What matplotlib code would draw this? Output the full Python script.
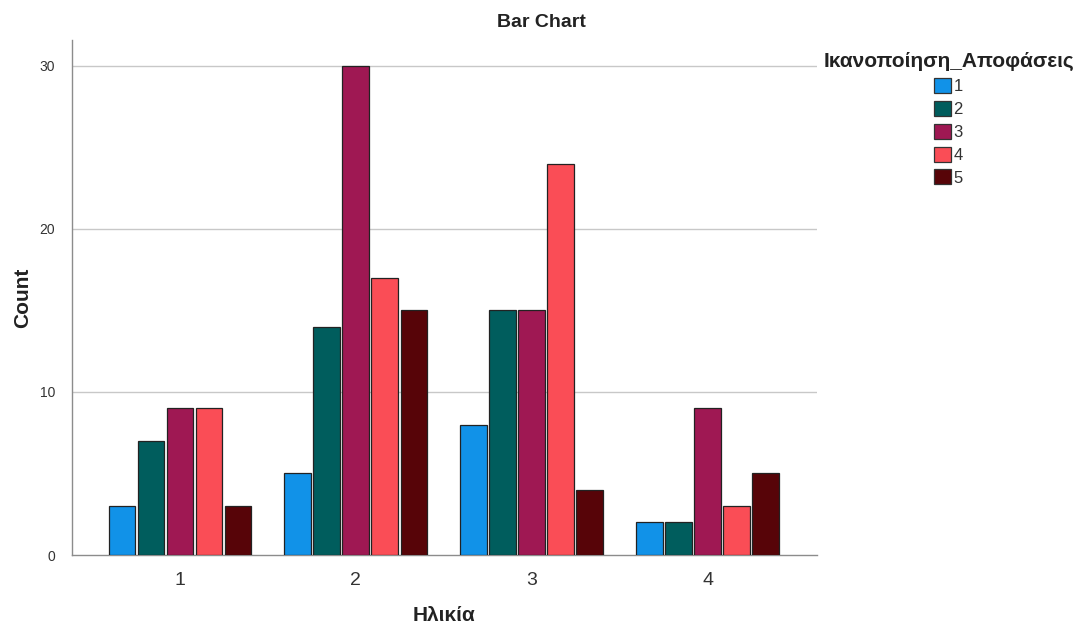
import numpy as np
import matplotlib
matplotlib.use('Agg')
import matplotlib.pyplot as plt
from matplotlib.patches import Patch

# --- Data ---
age_groups = [1, 2, 3, 4]
satisfaction_levels = ['1', '2', '3', '4', '5']
counts_level1 = [3, 5, 8, 2]
counts_level2 = [7, 14, 15, 2]
counts_level3 = [9, 30, 15, 9]
counts_level4 = [9, 17, 24, 3]
counts_level5 = [3, 15, 4, 5]
y_ticks = [0, 10, 20, 30]

series = [counts_level1, counts_level2, counts_level3, counts_level4, counts_level5]
colors = ['#1192e8', '#005d5d', '#9f1853', '#fa4d56', '#570408']

plt.rcParams['font.family'] = ['Liberation Sans', 'DejaVu Sans']

fig = plt.figure(figsize=(10.83, 6.3), dpi=100)
ax = fig.add_axes([0.0665, 0.119, 0.6875, 0.818])

x = np.array(age_groups, dtype=float)
step = 0.165
width = 0.152
for i, (vals, col) in enumerate(zip(series, colors)):
    offset = (i - 2) * step
    ax.bar(x + offset, vals, width=width, color=col, edgecolor='#222222',
           linewidth=0.9, zorder=3)

ax.set_xlim(0.386, 4.62)
ax.set_ylim(0, 31.6)
ax.set_xticks(age_groups)
ax.set_xticklabels([str(a) for a in age_groups], fontsize=14, color='#333333')
ax.set_yticks(y_ticks)
ax.set_yticklabels([str(t) for t in y_ticks], fontsize=10, color='#333333')
ax.tick_params(axis='x', length=0, pad=12)
ax.tick_params(axis='y', length=0, pad=12)

for t in y_ticks[1:]:
    ax.axhline(t, color='#c8c8c8', linewidth=1, zorder=1)

for side in ['top', 'right']:
    ax.spines[side].set_visible(False)
for side in ['left', 'bottom']:
    ax.spines[side].set_color('#8c8c8c')
    ax.spines[side].set_linewidth(1)

fig.text(0.5, 0.965, 'Bar Chart', fontsize=14, fontweight='bold',
         ha='center', va='center', color='#222222')
ax.set_ylabel('Count', fontsize=15, fontweight='bold', color='#222222')
ax.yaxis.set_label_coords(-0.067, 0.5)
ax.set_xlabel('Ηλικία', fontsize=15, fontweight='bold', color='#222222')
ax.xaxis.set_label_coords(0.5, -0.117)
ax.xaxis.label.set_va('center')
ax.yaxis.label.set_va('center')

handles = [Patch(facecolor=c, edgecolor='#333333', linewidth=0.9) for c in colors]
leg = fig.legend(handles, satisfaction_levels, loc='upper center',
                 bbox_to_anchor=(0.876, 0.93), frameon=False, borderpad=0,
                 title='Ικανοποίηση_Αποφάσεις', fontsize=12,
                 handlelength=1.0, handleheight=1.0, handletextpad=0.15,
                 labelspacing=0.4, alignment='center')
leg.get_title().set_fontweight('bold')
leg.get_title().set_fontsize(15)
leg.get_title().set_color('#222222')
for t in leg.get_texts():
    t.set_color('#333333')

fig.savefig('out.png', dpi=100)
